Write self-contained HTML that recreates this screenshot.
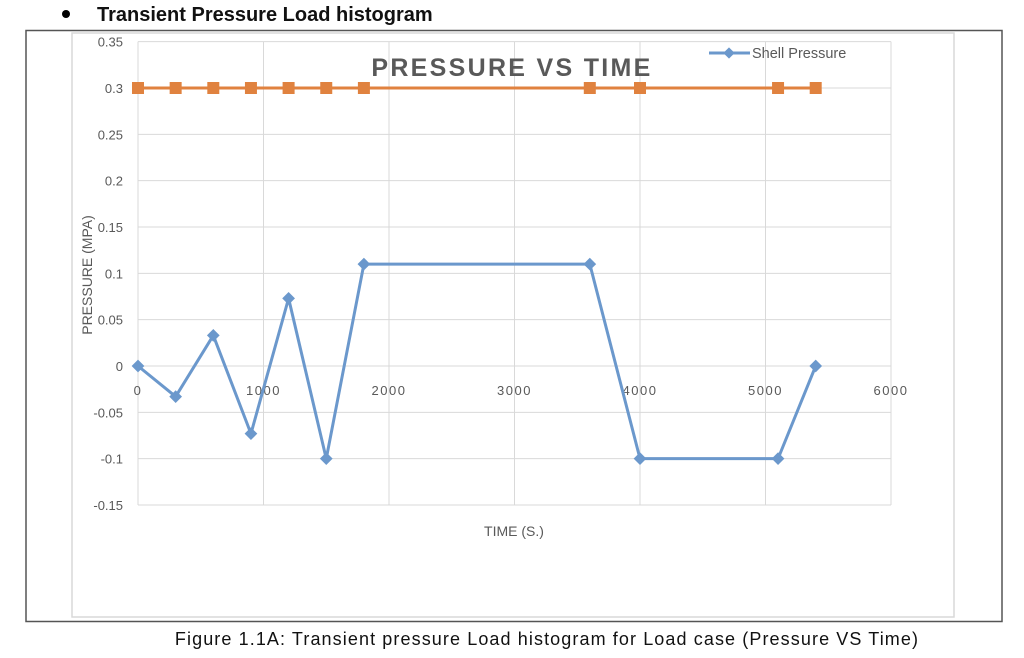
<!DOCTYPE html>
<html><head><meta charset="utf-8"><style>
body{margin:0;background:#fff;}
svg text{font-family:"Liberation Sans",sans-serif;}
</style></head><body>
<svg width="1024" height="653" viewBox="0 0 1024 653" xmlns="http://www.w3.org/2000/svg">
<circle cx="66" cy="14" r="4" fill="#000"/>
<text x="97" y="21" font-size="20" font-weight="bold" fill="#111">Transient Pressure Load histogram</text>
<rect x="26" y="30.5" width="976" height="591" fill="none" stroke="#555" stroke-width="1.5"/>
<rect x="72" y="33" width="882" height="584" fill="none" stroke="#d9d9d9" stroke-width="1.5"/>
<g id="grid"></g>
<g id="yticks"></g>
<g id="xticks"></g>
<g id="series"></g>
<text x="512" y="76" font-size="25" font-weight="bold" fill="#595959" text-anchor="middle" letter-spacing="2.3">PRESSURE VS TIME</text>
<text x="514" y="536" font-size="14" fill="#595959" text-anchor="middle">TIME (S.)</text>
<text transform="translate(92,275) rotate(-90)" font-size="14" fill="#595959" text-anchor="middle">PRESSURE (MPA)</text>
<g>
<line x1="709" y1="53" x2="750" y2="53" stroke="#6b98cc" stroke-width="3"/>
<rect x="725" y="49" width="8" height="8" transform="rotate(45 729 53)" fill="#6b98cc"/>
<text x="752" y="58" font-size="14.5" fill="#595959">Shell Pressure</text>
</g>
<text x="547" y="645" font-size="18" fill="#111" text-anchor="middle" letter-spacing="1.1">Figure 1.1A: Transient pressure Load histogram for Load case (Pressure VS Time)</text>
</svg>
<script>
const times=[0,300,600,900,1200,1500,1800,3600,4000,5100,5400];
const shellPressure=[0,-0.033,0.033,-0.073,0.073,-0.1,0.11,0.11,-0.1,-0.1,0];
const otherPressure=[0.3,0.3,0.3,0.3,0.3,0.3,0.3,0.3,0.3,0.3,0.3];
const yTicks=[0.35,0.3,0.25,0.2,0.15,0.1,0.05,0,-0.05,-0.1,-0.15];
const xTicks=[0,1000,2000,3000,4000,5000,6000];
const NS="http://www.w3.org/2000/svg";
const X=v=>138+v*(891-138)/6000;
const Y=v=>366-v*(366-88)/0.3;
function mk(t,a,p){const e=document.createElementNS(NS,t);for(const k in a)e.setAttribute(k,a[k]);p.appendChild(e);return e;}
const grid=document.getElementById('grid'),yt=document.getElementById('yticks'),xt=document.getElementById('xticks'),se=document.getElementById('series');
yTicks.forEach(v=>{
 const l=mk('line',{x1:138,x2:891,y1:Y(v),y2:Y(v),stroke:'#d9d9d9','stroke-width':1},grid);
 
 
 const t=mk('text',{x:123,y:Y(v)+5,'font-size':13,fill:'#595959','text-anchor':'end'},yt);
 t.textContent=String(v);
 
 
});
xTicks.forEach(v=>{
 const l=mk('line',{x1:X(v),x2:X(v),y1:Y(0.35),y2:Y(-0.15),stroke:'#d9d9d9','stroke-width':1},grid);
 
 
 const t=mk('text',{x:X(v),y:Y(0)+29,'font-size':13,fill:'#595959','text-anchor':'middle','letter-spacing':'1.5'},xt);
 t.textContent=String(v);
 
 
});
const op=mk('polyline',{points:times.map((t,i)=>X(t)+','+Y(otherPressure[i])).join(' '),fill:'none',stroke:'#e0823f','stroke-width':3},se);


times.forEach((t,i)=>{
 const r=mk('rect',{x:X(t)-6,y:Y(otherPressure[i])-6,width:12,height:12,fill:'#e0823f'},se);
 
 
});
const sp=mk('polyline',{points:times.map((t,i)=>X(t)+','+Y(shellPressure[i])).join(' '),fill:'none',stroke:'#6b98cc','stroke-width':3},se);


times.forEach((t,i)=>{
 const cx=X(t),cy=Y(shellPressure[i]);
 const r=mk('rect',{x:cx-4.5,y:cy-4.5,width:9,height:9,fill:'#6b98cc',transform:`rotate(45 ${cx} ${cy})`},se);
 
 
});
</script>
</body></html>
